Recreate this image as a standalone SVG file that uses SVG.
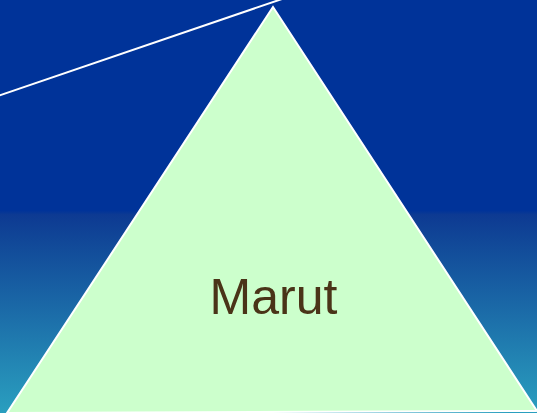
<svg xmlns="http://www.w3.org/2000/svg" width="537" height="413" viewBox="0 0 537 413">
<defs>
<linearGradient id="bg" x1="0" y1="0" x2="0" y2="1">
<stop offset="0" stop-color="#003399"/>
<stop offset="0.51" stop-color="#003399"/>
<stop offset="0.52" stop-color="#0d3a92"/>
<stop offset="1" stop-color="#2a9fbf"/>
</linearGradient>
<style>
.lbl{font-family:"Liberation Sans",Arial,sans-serif;font-size:50px;fill:#4a3418;text-anchor:middle}
</style>
</defs>
<rect x="0" y="0" width="537" height="413" fill="url(#bg)"/>
<g id="connectors">
<line x1="-2" y1="96" x2="282" y2="-1" stroke="#ffffff" stroke-width="2"/>
</g>
<g id="marut">
<polygon points="273,7 7,413 537,411" fill="#ccffcc" stroke="#ffffff" stroke-width="2"/>
<text class="lbl" x="273.5" y="314">Marut</text>
</g>
</svg>
